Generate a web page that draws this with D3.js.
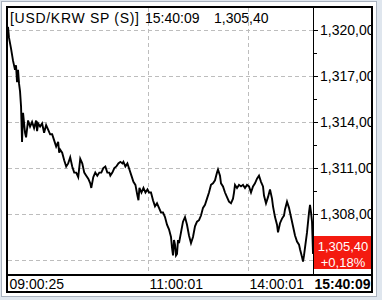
<!DOCTYPE html>
<html>
<head>
<meta charset="utf-8">
<script src="https://cdn.jsdelivr.net/npm/d3@7"></script>
<style>
  body { margin: 0; background: #dfe6ee; }
  svg { display: block; font-family: "Liberation Sans", Arial, sans-serif; }
</style>
</head>
<body>
<svg></svg>
<script>
const width = 382;
const height = 300;
const plotLeft = 8, plotRight = 313, plotTop = 8, plotBottom = 275, frameRight = 372, frameBottom = 292;

// data
const times = [
  "09:00:25","09:01:16","09:02:59","09:04:42","09:06:25","09:07:16","09:08:08","09:08:59","09:09:51","09:10:42",
  "09:11:34","09:12:25","09:13:16","09:14:59","09:15:51","09:17:34","09:19:16","09:20:59","09:22:42","09:24:25",
  "09:25:16","09:26:08","09:27:51","09:29:34","09:31:16","09:32:59","09:34:42","09:36:25","09:38:08","09:39:51",
  "09:41:34","09:43:16","09:44:08","09:44:59","09:46:42","09:48:25","09:50:08","09:51:51","09:53:34","09:55:16",
  "09:56:59","09:58:42","10:00:25","10:02:08","10:03:51","10:05:34","10:07:16","10:08:59","10:10:42","10:11:34",
  "10:13:16","10:14:59","10:16:42","10:18:25","10:20:08","10:21:51","10:23:34","10:25:16","10:26:59","10:27:51",
  "10:29:34","10:31:16","10:32:59","10:34:42","10:36:25","10:38:08","10:38:59","10:40:42","10:42:25","10:44:08",
  "10:45:51","10:47:34","10:49:16","10:50:59","10:51:51","10:52:42","10:54:25","10:56:08","10:57:51","10:59:34",
  "11:01:49","11:05:25","11:09:01","11:12:37","11:16:13","11:19:49","11:23:25","11:27:01","11:30:37","11:34:13",
  "11:37:49","11:41:25","11:43:13","11:45:01","11:46:49","11:48:37","11:50:25","11:52:13","11:54:01","11:55:49",
  "11:59:25","12:03:01","12:06:37","12:10:13","12:13:49","12:17:25","12:21:01","12:24:37","12:28:13","12:31:49",
  "12:35:25","12:39:01","12:42:37","12:46:13","12:49:49","12:53:25","12:57:01","13:00:37","13:04:13","13:06:01",
  "13:09:37","13:11:25","13:15:01","13:18:37","13:22:13","13:25:49","13:29:25","13:33:01","13:34:49","13:36:37",
  "13:40:13","13:43:49","13:47:25","13:51:01","13:54:37","13:58:13",
  "14:01:33","14:04:38","14:07:43","14:10:48","14:13:53","14:16:58","14:20:03","14:23:08","14:24:40","14:27:45",
  "14:30:50","14:33:55","14:37:00","14:38:32","14:41:37","14:44:42","14:46:15","14:49:19","14:52:24","14:55:29",
  "14:57:02","15:00:07","15:03:11","15:06:16","15:09:21","15:12:26","15:15:31","15:18:36","15:20:09","15:23:13",
  "15:24:46","15:26:18","15:27:51","15:30:56","15:34:01","15:35:33","15:37:06","15:38:38","15:40:09"
];
const prices = [
  1320.2,1319.5,1318.8,1318.0,1317.4,1317.7,1316.6,1317.4,1316.5,1316.0,
  1315.0,1312.7,1314.6,1313.3,1313.0,1314.1,1313.7,1314.0,1313.6,1314.1,
  1313.4,1313.9,1313.7,1313.9,1313.3,1313.8,1313.5,1313.2,1313.2,1312.8,
  1312.4,1312.7,1312.0,1312.2,1312.0,1311.5,1311.1,1311.3,1311.7,1311.1,
  1310.7,1310.7,1310.4,1311.6,1311.3,1310.7,1310.5,1310.3,1310.0,1309.7,
  1310.4,1310.7,1310.5,1310.7,1310.7,1311.0,1311.1,1310.7,1310.7,1310.5,
  1310.7,1311.0,1311.1,1311.3,1311.4,1311.3,1311.4,1311.1,1311.3,1310.9,
  1310.5,1310.1,1309.9,1309.2,1308.9,1309.7,1309.4,1309.7,1309.4,1309.6,
  1309.4,1309.4,1308.9,1308.5,1308.7,1308.4,1308.1,1308.1,1307.8,1307.3,
  1307.0,1306.5,1305.8,1305.3,1306.3,1306.0,1305.3,1305.4,1306.3,1306.1,
  1306.8,1307.5,1307.8,1307.3,1306.6,1306.1,1306.5,1307.2,1307.5,1307.6,
  1307.9,1308.4,1308.6,1309.0,1309.4,1309.9,1310.0,1310.2,1310.7,1310.9,
  1310.5,1310.0,1309.8,1309.4,1309.1,1308.8,1308.7,1309.0,1309.4,1309.9,
  1309.7,1309.9,1309.8,1309.9,1309.7,1309.9,
  1309.8,1309.4,1309.8,1310.0,1310.3,1310.5,1310.1,1309.8,1309.2,1308.7,
  1309.1,1309.6,1309.0,1308.5,1307.8,1307.3,1306.8,1307.4,1307.7,1307.9,
  1308.3,1308.8,1308.4,1307.8,1307.2,1306.6,1306.2,1306.0,1305.7,1305.2,
  1304.9,1305.3,1305.8,1306.8,1308.1,1308.6,1308.1,1307.5,1305.4
];
const yTicks = [1305, 1308, 1311, 1314, 1317, 1320];
const yLabelTicks = [1308, 1311, 1314, 1317, 1320]; // 1,305 label sits under the price box
const yMinorTicks = [1306.5, 1309.5, 1312.5, 1315.5, 1318.5];
const xTickTimes = ["09:00:25", "11:00:01", "14:00:01", "15:40:09"];
const xGridTimes = ["11:00:01", "14:00:01"];
const titleParts = ["[USD/KRW SP (S)]", "15:40:09", "1,305,40"];
const lastPrice = "1,305,40";
const lastChange = "+0,18%";

const parseTime = d3.timeParse("%H:%M:%S");
const data = times.map((t, i) => ({ t: parseTime(t), v: prices[i] }));

const xScale = d3.scaleTime()
                  .domain(xTickTimes.map(parseTime))
                  .range([plotLeft, 148, 248, plotRight]);
const yScale = d3.scaleLinear()
                  .domain([1305, 1320])
                  .range([260, 30]);

const fmt = d3.formatLocale({ decimal: ",", thousands: ",", grouping: [3], currency: ["", ""] }).format(",.2f");

const svg = d3.select("svg")
    .attr("width", width)
    .attr("height", height);

svg.append("rect")
    .attr("x", 1.5).attr("y", 1.5)
    .attr("width", 375).attr("height", 295)
    .attr("fill", "white")
    .attr("stroke", "#a9b2bf");

// clip in the axis group's own coordinates
svg.append("defs").append("clipPath").attr("id", "axclip")
  .append("rect").attr("x", 0).attr("y", 0)
    .attr("width", frameRight - 1 - plotRight).attr("height", plotBottom);

// horizontal grid
svg.append("g")
  .selectAll("line")
  .data(yTicks)
  .enter()
  .append("line")
    .attr("x1", plotLeft).attr("x2", plotRight)
    .attr("y1", d => Math.round(yScale(d)) + 0.5)
    .attr("y2", d => Math.round(yScale(d)) + 0.5)
    .attr("stroke", "#bdbdbd")
    .attr("stroke-dasharray", "4,3");

// vertical grid
svg.append("g")
  .selectAll("line")
  .data(xGridTimes.map(parseTime))
  .enter()
  .append("line")
    .attr("x1", d => Math.round(xScale(d)) + 0.5)
    .attr("x2", d => Math.round(xScale(d)) + 0.5)
    .attr("y1", plotTop).attr("y2", plotBottom)
    .attr("stroke", "#bdbdbd")
    .attr("stroke-dasharray", "4,3");

// price line
svg.append("path")
    .datum(data)
    .attr("fill", "none")
    .attr("stroke", "black")
    .attr("stroke-width", 1.9)
    .attr("d", d3.line().x(d => xScale(d.t)).y(d => yScale(d.v)));

// right axis
const yAxis = svg.append("g")
    .attr("transform", "translate(" + plotRight + ",0)")
    .attr("clip-path", "url(#axclip)")
    .call(d3.axisRight(yScale).tickValues(yLabelTicks).tickSize(5).tickPadding(2).tickFormat(fmt));
yAxis.select(".domain").remove();
yAxis.selectAll("text").attr("font-size", 14).attr("font-family", "Liberation Sans, Arial, sans-serif").attr("fill", "black");

const yMinor = svg.append("g")
    .attr("transform", "translate(" + plotRight + ",0)")
    .call(d3.axisRight(yScale).tickValues(yMinorTicks).tickSize(4).tickFormat(""));
yMinor.select(".domain").remove();

// axis line
svg.append("line")
    .attr("x1", plotRight + 0.5).attr("x2", plotRight + 0.5)
    .attr("y1", plotTop).attr("y2", plotBottom)
    .attr("stroke", "black");

// last price box
svg.append("rect")
    .attr("x", plotRight + 1).attr("y", 236)
    .attr("width", frameRight - plotRight - 1).attr("height", 33)
    .attr("fill", "#f41a10");
svg.append("text")
    .attr("x", 343).attr("y", 251)
    .attr("text-anchor", "middle")
    .attr("font-size", 13)
    .attr("fill", "white")
    .text(lastPrice);
svg.append("text")
    .attr("x", 343).attr("y", 267)
    .attr("text-anchor", "middle")
    .attr("font-size", 13)
    .attr("fill", "white")
    .text(lastChange);

// bottom axis
const xAxis = svg.append("g")
    .attr("transform", "translate(0," + plotBottom + ")")
    .call(d3.axisBottom(xScale).tickValues(xTickTimes.map(parseTime)).tickSize(0).tickFormat(d3.timeFormat("%H:%M:%S")));
xAxis.select(".domain").remove();
xAxis.selectAll("text")
    .attr("text-anchor", "start")
    .attr("x", 1)
    .attr("y", 14)
    .attr("dy", 0)
    .attr("font-size", 14)
    .attr("font-family", "Liberation Sans, Arial, sans-serif")
    .attr("fill", "black")
    .attr("font-weight", (d, i) => i === xTickTimes.length - 1 ? "bold" : "normal");

svg.append("line")
    .attr("x1", plotLeft).attr("x2", frameRight)
    .attr("y1", plotBottom).attr("y2", plotBottom)
    .attr("stroke", "black")
    .attr("stroke-width", 2);

// title
const title = svg.append("text")
    .attr("y", 23)
    .attr("font-size", 14)
    .attr("fill", "black");
title.append("tspan").attr("x", 10).attr("textLength", 129).attr("lengthAdjust", "spacing").text(titleParts[0]);
title.append("tspan").attr("x", 145).text(titleParts[1]);
title.append("tspan").attr("x", 214).text(titleParts[2]);

// frame
svg.append("rect")
    .attr("x", 7).attr("y", 7)
    .attr("width", frameRight - 7).attr("height", frameBottom - 7)
    .attr("fill", "none")
    .attr("stroke", "black")
    .attr("stroke-width", 2);
</script>
</body>
</html>
